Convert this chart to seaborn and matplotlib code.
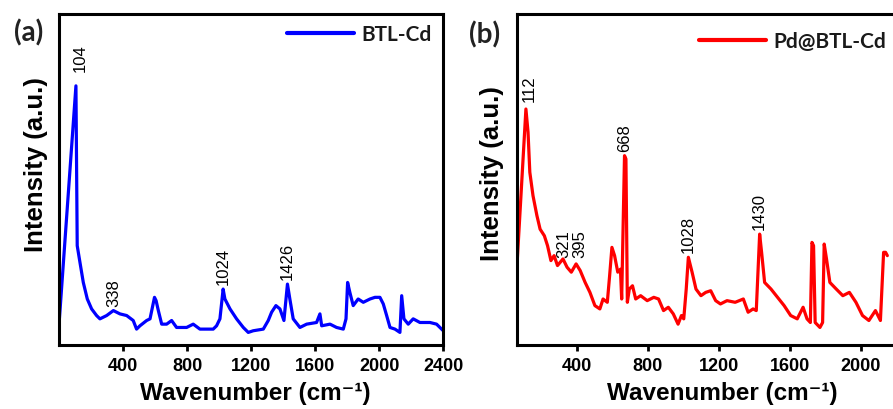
import numpy as np
import pandas as pd
import matplotlib
matplotlib.use("Agg")
import matplotlib.pyplot as plt
import seaborn as sns

# Raman spectrum of BTL-Cd (wavenumber in cm-1, intensity in arbitrary units)
wavenumber_a = [0, 104, 112, 129, 150, 175, 202, 233, 254, 296, 338, 379, 421, 462, 483,
                504, 546, 567, 595, 605, 619, 640, 671, 702, 733, 796, 837, 879, 962, 983,
                1004, 1024, 1035, 1067, 1108, 1150, 1181, 1212, 1275, 1306, 1327, 1354,
                1379, 1404, 1426, 1441, 1462, 1504, 1546, 1608, 1629, 1640, 1692, 1733,
                1775, 1792, 1802, 1816, 1837, 1868, 1900, 1942, 1973, 2004, 2025, 2046,
                2067, 2098, 2129, 2140, 2154, 2181, 2212, 2254, 2317, 2358, 2400]
intensity_a = [7.4, 78.3, 30.0, 25.0, 18.9, 13.9, 10.9, 8.9, 7.9, 8.9, 10.4, 9.4, 8.9, 7.4, 4.8,
               5.8, 7.4, 7.9, 14.4, 13.4, 10.4, 6.3, 6.3, 7.4, 5.3, 5.3, 6.3, 4.8, 4.8, 5.8,
               7.9, 16.9, 13.9, 10.9, 7.9, 5.3, 3.8, 4.3, 4.8, 7.4, 9.9, 11.9,
               10.9, 7.4, 18.4, 13.9, 7.9, 5.3, 6.3, 6.8, 9.4, 5.8, 6.3, 5.3,
               4.8, 7.9, 18.9, 15.9, 11.9, 13.9, 12.9, 13.9, 14.4, 14.4, 12.4, 8.9,
               5.3, 4.8, 3.8, 14.9, 7.9, 6.3, 7.9, 6.8, 6.8, 6.3, 4.3]
peaks_a = [104, 338, 1024, 1426]

# Raman spectrum of Pd@BTL-Cd
wavenumber_b = [60, 112, 124, 134, 152, 174, 192, 216, 234, 253, 271, 290, 321, 344, 368,
                395, 418, 446, 473, 501, 529, 547, 571, 584, 597, 612, 630, 645, 652, 668,
                676, 684, 695, 713, 731, 759, 796, 833, 860, 888, 915, 943, 970, 989, 1002,
                1016, 1028, 1049, 1071, 1099, 1126, 1154, 1182, 1209, 1246, 1292, 1338,
                1365, 1393, 1411, 1430, 1441, 1458, 1494, 1531, 1568, 1605, 1642, 1675,
                1697, 1716, 1725, 1734, 1743, 1770, 1785, 1794, 1807, 1826, 1862, 1899,
                1936, 1973, 2010, 2046, 2083, 2111, 2129, 2140, 2150]
intensity_b = [22.5, 71.3, 64.3, 52.2, 45.1, 39.1, 35.0, 33.0, 30.0, 25.5, 27.0, 24.0, 26.0, 23.5, 22.0,
               24.5, 22.5, 18.9, 15.9, 11.9, 10.9, 13.9, 12.9, 20.9, 29.5, 27.0, 22.0, 22.9, 13.9, 57.2,
               56.2, 12.9, 16.9, 17.9, 13.9, 14.9, 13.4, 14.4, 13.9, 10.4, 11.4, 9.4, 6.3, 8.9, 7.9,
               16.9, 26.5, 22.0, 16.9, 14.9, 15.9, 16.4, 13.4, 12.4, 13.4, 12.9, 13.9,
               9.9, 10.9, 10.4, 33.5, 28.0, 18.9, 16.9, 14.4, 11.9, 8.9, 7.9, 11.4,
               7.9, 6.8, 31.0, 30.0, 6.8, 5.3, 6.8, 30.5, 26.0, 18.9, 16.9, 14.9,
               15.9, 12.9, 8.9, 7.4, 10.4, 7.4, 28.0, 28.0, 27.0]
peaks_b = [112, 321, 395, 668, 1028, 1430]

ticks_a = [400, 800, 1200, 1600, 2000, 2400]
ticks_b = [400, 800, 1200, 1600, 2000, 2400]

sns.set_style("ticks")
plt.rcParams["font.family"] = ["Liberation Sans", "DejaVu Sans"]
plt.rcParams["text.color"] = "black"
plt.rcParams["axes.labelcolor"] = "black"
plt.rcParams["xtick.color"] = "black"

df_a = pd.DataFrame({"wavenumber": wavenumber_a, "intensity": intensity_a})
df_b = pd.DataFrame({"wavenumber": wavenumber_b, "intensity": intensity_b})

fig = plt.figure(figsize=(8.93, 4.10), dpi=100)
ax_a = fig.add_axes([0.0664, 0.1561, 0.4300, 0.8073])
ax_b = fig.add_axes([0.5786, 0.1561, 0.4647, 0.8073])

panels = [
    (ax_a, df_a, "#0000FF", "BTL-Cd", peaks_a, (0, 2400), ticks_a, "(a)", (29, 33), (277, 35),
     {104: (25, 4.6)}, 0.51),
    (ax_b, df_b, "#FF0000", "Pd@BTL-Cd", peaks_b, (60, 2350), ticks_b, "(b)", (485, 35), (689, 42),
     {112: (20, 2.5), 321: (5, 0.5), 395: (20, 2.0)}, 0.495),
]

fig_w, fig_h = 893.0, 410.0
for ax, df, color, name, peaks, xlim, ticks, tag, tag_xy, leg_xy, nudges, xlab_x in panels:
    sns.lineplot(data=df, x="wavenumber", y="intensity", ax=ax, color=color,
                 linewidth=2.3, label=name, sort=False, estimator=None)
    ax.set_xlim(*xlim)
    ax.set_ylim(0, 100)
    ax.set_xticks(ticks)
    ax.set_yticks([])
    ax.set_xlabel("")
    ax.set_ylabel("")
    for sp in ax.spines.values():
        sp.set_linewidth(2.2)
        sp.set_color("black")
    ax.tick_params(axis="x", direction="out", length=4, width=2.0, pad=5,
                   labelsize=13, colors="black")
    for lab in ax.get_xticklabels():
        lab.set_fontweight("bold")

    # peak labels, written vertically above each band
    for p in peaks:
        dx, dy = nudges.get(p, (0, 1.5))
        y_peak = float(np.interp(p, df["wavenumber"], df["intensity"]))
        ax.text(p + dx, y_peak + dy, str(p), rotation=90, ha="center", va="bottom",
                fontsize=12, color="black")

    ax.text(xlab_x, -0.145, "Wavenumber (cm\u207b\u00b9)",
            transform=ax.transAxes, ha="center", va="center",
            fontsize=17.5, fontweight="bold", color="black")

    leg = ax.legend(loc="center left", frameon=False, borderpad=0, handlelength=3.2,
                    handletextpad=0.35,
                    bbox_to_anchor=(leg_xy[0] / fig_w, 1 - leg_xy[1] / fig_h),
                    bbox_transform=fig.transFigure,
                    prop={"family": "Lato", "weight": "bold", "size": 15})
    for h in leg.get_lines():
        h.set_linewidth(3)
    for t in leg.get_texts():
        t.set_color("#1a1a1a")

    fig.text(tag_xy[0] / fig_w, 1 - tag_xy[1] / fig_h, tag, ha="center", va="center",
             fontsize=20, fontweight="bold", family="Lato", color="#222222")

fig.text(36 / fig_w, 1 - 165 / fig_h, "Intensity (a.u.)", rotation=90, ha="center",
         va="center", fontsize=18.5, fontweight="bold", color="black")
fig.text(492 / fig_w, 1 - 174 / fig_h, "Intensity (a.u.)", rotation=90, ha="center",
         va="center", fontsize=18.5, fontweight="bold", color="black")

fig.savefig("out.png", dpi=100)
